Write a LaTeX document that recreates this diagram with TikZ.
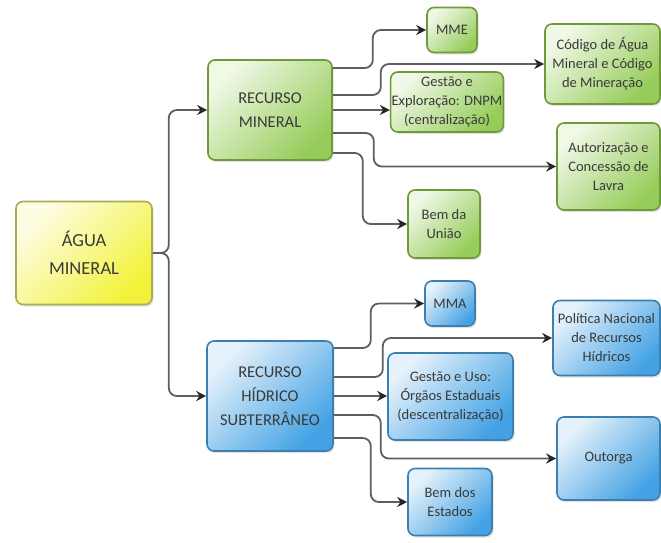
\documentclass[tikz,border=0pt]{standalone}
\usepackage{fontspec}
\setmainfont{Carlito}
\usetikzlibrary{arrows.meta,shadows,calc}
\definecolor{txt}{HTML}{3A3A3A}
\definecolor{glight}{HTML}{F0F8E6}
\definecolor{gdark}{HTML}{96CC5A}
\definecolor{gborder}{HTML}{6F9A3A}
\definecolor{blight}{HTML}{E6F2FB}
\definecolor{bdark}{HTML}{44A2E4}
\definecolor{bborder}{HTML}{3D7FAE}
\definecolor{ylight}{HTML}{FDFDE4}
\definecolor{ydark}{HTML}{F2F23A}
\definecolor{yborder}{HTML}{A8AD55}
\definecolor{lineg}{HTML}{5E5E5E}
\newcommand{\fbig}{\fontsize{18.5}{28}\selectfont}
\newcommand{\fmid}{\fontsize{16.5}{24}\selectfont}
\newcommand{\fsmall}{\fontsize{14.5}{19}\selectfont}
\tikzset{
  box/.style={draw, rounded corners=7pt, line width=1.6pt, align=center, inner sep=1pt, text=txt,
    drop shadow={opacity=0.22, shadow xshift=1.5pt, shadow yshift=-2pt}},
  gbox/.style={box, draw=gborder, top color=glight, bottom color=gdark, shading angle=45},
  bbox/.style={box, draw=bborder, top color=blight, bottom color=bdark, shading angle=45},
  ybox/.style={box, draw=yborder, top color=ylight, bottom color=ydark, shading angle=45},
  leaf/.style={font=\fsmall},
  conn/.style={draw=lineg, line width=1.8pt, rounded corners=8pt, -{Stealth[length=10pt,width=10pt,color=black!85]}}
}
\begin{document}
\begin{tikzpicture}[x=1pt,y=-1pt]
\useasboundingbox (0,0) rectangle (661,542);
% main boxes
\node[ybox, minimum width=136pt, minimum height=103pt, font=\fbig] (agua) at (84,253) {ÁGUA\\MINERAL};
\node[gbox, minimum width=124pt, minimum height=100pt, font=\fmid] (rmin) at (270,110) {RECURSO\\MINERAL};
\node[bbox, minimum width=126pt, minimum height=110pt, font=\fmid] (rhid) at (270,396) {RECURSO\\HÍDRICO\\SUBTERRÂNEO};
% green leaves
\node[gbox, leaf, minimum width=50pt, minimum height=45pt] (mme) at (452,30) {MME};
\node[gbox, leaf, minimum width=115pt, minimum height=80pt] (cod) at (602.5,64) {Código de Água\\Mineral e Código\\de Mineração};
\node[gbox, leaf, minimum width=110pt, minimum height=60pt] (gex) at (447,102) {Gestão e\\Exploração: DNPM\\(centralização)};
\node[gbox, leaf, minimum width=103pt, minimum height=87pt] (aut) at (608.5,166.5) {Autorização e\\Concessão de\\Lavra};
\node[gbox, leaf, minimum width=72pt, minimum height=68pt] (bu) at (444,224) {Bem da\\União};
% blue leaves
\node[bbox, leaf, minimum width=50pt, minimum height=45pt] (mma) at (450,303.5) {MMA};
\node[bbox, leaf, minimum width=107pt, minimum height=75pt] (pol) at (606.5,338) {Política Nacional\\de Recursos\\Hídricos};
\node[bbox, leaf, minimum width=125pt, minimum height=87pt] (guso) at (450.5,396.5) {Gestão e Uso:\\Órgãos Estaduais\\(descentralização)};
\node[bbox, leaf, minimum width=103pt, minimum height=83pt] (out) at (608.5,458.5) {Outorga};
\node[bbox, leaf, minimum width=84pt, minimum height=67pt] (be) at (450,502) {Bem dos\\Estados};
% connectors from root
\draw[conn] (agua.east) -- ++(16,0) |- (rmin.west);
\draw[conn] (agua.east) -- ++(16,0) |- (rhid.west);
% green connectors
\draw[conn] (rmin.east |- 0,68) -- ++(40,0) |- (mme.west);
\draw[conn] (rmin.east |- 0,95) -- ++(48,0) |- (cod.west);
\draw[conn] (rmin.east) -- (rmin.east -| gex.west);
\draw[conn] (rmin.east |- 0,133) -- ++(41,0) |- (aut.west);
\draw[conn] (rmin.east |- 0,153) -- ++(30,0) |- (bu.west);
% blue connectors
\draw[conn] (rhid.east |- 0,348) -- ++(37,0) |- (mma.west);
\draw[conn] (rhid.east |- 0,377) -- ++(49,0) |- (pol.west);
\draw[conn] (rhid.east) -- (rhid.east -| guso.west);
\draw[conn] (rhid.east |- 0,415) -- ++(47,0) |- (out.west);
\draw[conn] (rhid.east |- 0,438) -- ++(37,0) |- (be.west);
\end{tikzpicture}
\end{document}
